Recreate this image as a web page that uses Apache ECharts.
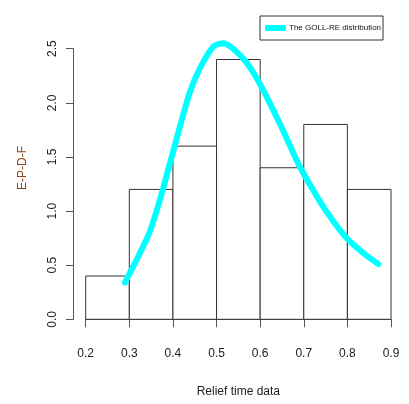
<!DOCTYPE html>
<html>
<head>
<meta charset="utf-8">
<script src="https://cdn.jsdelivr.net/npm/echarts@6/dist/echarts.min.js"></script>
<style>
html,body{margin:0;padding:0;background:#fff;}
#c{width:409px;height:404px;}
</style>
</head>
<body>
<div id="c"></div>
<script>
// Histogram bins (left edge, right edge) and densities
var binStarts = [0.2, 0.3, 0.4, 0.5, 0.6, 0.7, 0.8];
var binEnds   = [0.3, 0.4, 0.5, 0.6, 0.7, 0.8, 0.9];
var binHeights = [0.4, 1.2, 1.6, 2.4, 1.4, 1.8, 1.2];

// Fitted density curve
var curveX = [0.290, 0.344, 0.370, 0.393, 0.416, 0.439, 0.462, 0.493, 0.516, 0.538, 0.569, 0.600, 0.646, 0.691, 0.722, 0.753, 0.798, 0.837, 0.871];
var curveY = [0.34, 0.78, 1.10, 1.44, 1.78, 2.10, 2.32, 2.52, 2.55, 2.50, 2.37, 2.17, 1.80, 1.41, 1.19, 0.99, 0.75, 0.61, 0.51];

var xTicks = [0.2, 0.3, 0.4, 0.5, 0.6, 0.7, 0.8, 0.9];
var yTicks = [0.0, 0.5, 1.0, 1.5, 2.0, 2.5];

var seriesName = 'The GOLL-RE distribution';
var xTitle = 'Relief time data';
var yTitle = 'E-P-D-F';

var histData = binStarts.map(function (s, i) { return [s, binEnds[i], binHeights[i]]; });
var curveData = curveX.map(function (x, i) { return [x, curveY[i]]; });

var FONT = 'Liberation Sans, Arial, sans-serif';
var chart = echarts.init(document.getElementById('c'), null, {renderer: 'canvas'});
chart.setOption({
  animation: false,
  backgroundColor: '#fff',
  grid: {left: 85.7, right: 18, top: 48.7, bottom: 84.7, containLabel: false},
  legend: {
    data: [seriesName],
    left: 260, top: 16,
    orient: 'horizontal',
    padding: [8, 2, 8, 5],
    borderColor: '#333', borderWidth: 1,
    icon: 'roundRect',
    itemWidth: 21, itemHeight: 6, itemGap: 5,
    textStyle: {fontFamily: FONT, fontSize: 8, color: '#111', padding: [0,0,0,-2]}
  },
  xAxis: {
    type: 'value',
    min: xTicks[0], max: xTicks[xTicks.length - 1], interval: 0.1,
    offset: 11.5,
    name: xTitle, nameLocation: 'middle', nameGap: 55,
    nameTextStyle: {fontFamily: FONT, fontSize: 12, color: '#222'},
    axisLine: {show: true, lineStyle: {color: '#555', width: 1}},
    axisTick: {show: true, length: 8, inside: false, lineStyle: {color: '#555'}},
    axisLabel: {fontFamily: FONT, fontSize: 12, color: '#222', margin: 17,
      formatter: function (v) { return v.toFixed(1); }},
    splitLine: {show: false}
  },
  yAxis: {
    type: 'value',
    min: yTicks[0], max: yTicks[yTicks.length - 1], interval: 0.5,
    offset: 12.7,
    axisLine: {show: true, lineStyle: {color: '#555', width: 1}},
    axisTick: {show: true, length: 7, inside: false, lineStyle: {color: '#555'}},
    axisLabel: {fontFamily: FONT, fontSize: 12, color: '#222', margin: 14, rotate: 90,
      formatter: function (v) { return v.toFixed(1); }},
    splitLine: {show: false}
  },
  graphic: [{
    type: 'text',
    x: 23, y: 168,
    rotation: Math.PI / 2,
    style: {text: yTitle, fontFamily: FONT, fontSize: 12, fill: '#8B4513',
      textAlign: 'center', textVerticalAlign: 'middle'}
  }],
  series: [{
    type: 'custom',
    name: 'hist',
    data: histData,
    z: 1,
    renderItem: function (params, api) {
      var p0 = api.coord([api.value(0), api.value(2)]);
      var p1 = api.coord([api.value(1), 0]);
      return {
        type: 'rect',
        shape: {x: p0[0], y: p0[1], width: p1[0] - p0[0], height: p1[1] - p0[1]},
        style: {fill: '#fff', stroke: '#333', lineWidth: 1}
      };
    }
  }, {
    type: 'line',
    name: seriesName,
    data: curveData,
    z: 3,
    smooth: 0.25,
    showSymbol: false,
    symbol: 'none',
    clip: false,
    itemStyle: {color: '#00FFFF'},
    lineStyle: {color: '#00FFFF', width: 6, cap: 'round', join: 'round'}
  }]
});
</script>
</body>
</html>
